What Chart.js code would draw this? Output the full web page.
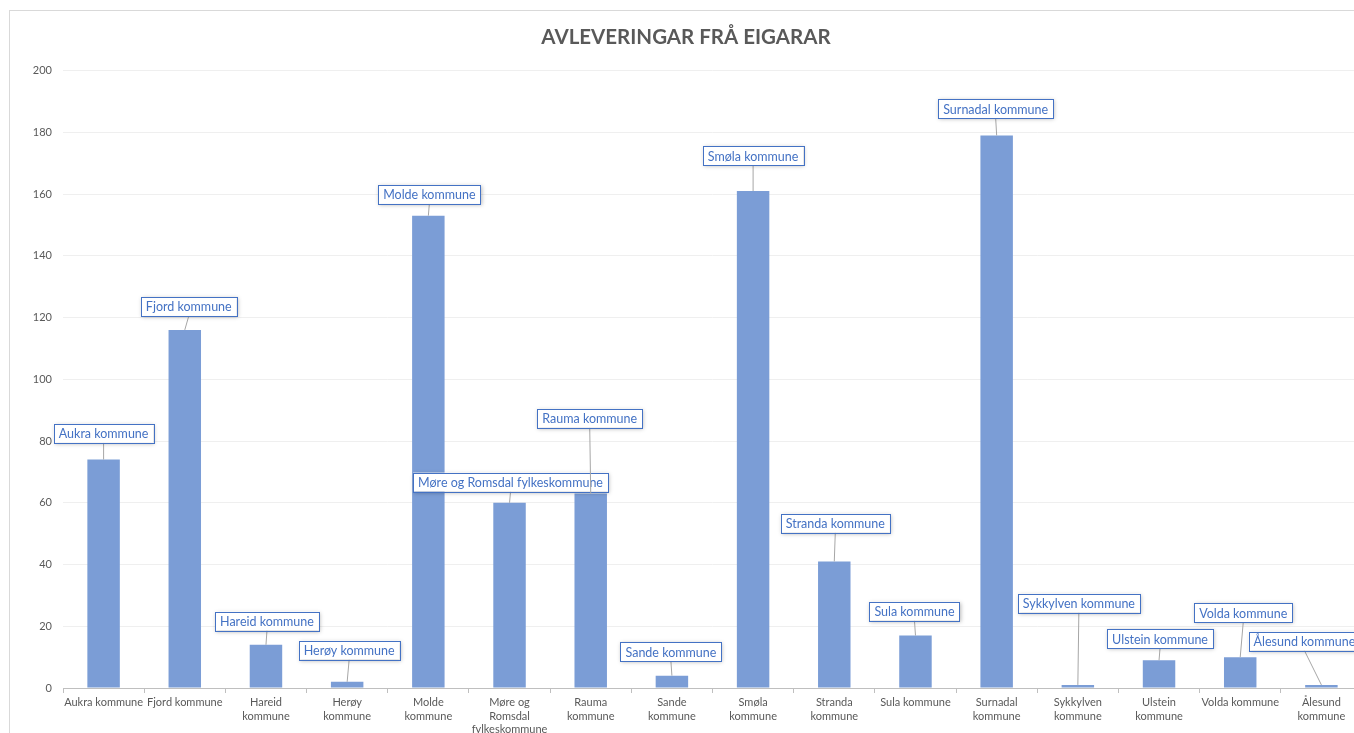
<!DOCTYPE html>
<html>
<head>
<meta charset="utf-8">
<script src="https://cdn.jsdelivr.net/npm/chart.js@4/dist/chart.umd.min.js"></script>
<style>
  html, body { margin: 0; padding: 0; background: #fff; overflow: hidden; width: 1354px; height: 733px; }
  #wrap { position: absolute; left: 9px; top: 10px; width: 1352px; height: 722px;
          border-left: 1px solid #d9d9d9; border-top: 1px solid #d9d9d9; background: #fff; }
  canvas { display: block; }
</style>
</head>
<body>
<div id="wrap"><canvas id="c" width="1352" height="722"></canvas></div>
<script>
// ---- data ----
const categories = ['Aukra kommune','Fjord kommune','Hareid kommune','Herøy kommune','Molde kommune',
  'Møre og Romsdal fylkeskommune','Rauma kommune','Sande kommune','Smøla kommune','Stranda kommune',
  'Sula kommune','Surnadal kommune','Sykkylven kommune','Ulstein kommune','Volda kommune','Ålesund kommune'];
const values = [74, 116, 14, 2, 153, 60, 63, 4, 161, 41, 17, 179, 1, 9, 10, 1];
const tickLabels = [['Aukra kommune'], ['Fjord kommune'], ['Hareid','kommune'], ['Herøy','kommune'],
  ['Molde','kommune'], ['Møre og','Romsdal','fylkeskommune'], ['Rauma','kommune'], ['Sande','kommune'],
  ['Smøla','kommune'], ['Stranda','kommune'], ['Sula kommune'], ['Surnadal','kommune'],
  ['Sykkylven','kommune'], ['Ulstein','kommune'], ['Volda kommune'], ['Ålesund','kommune']];
const chartTitle = 'AVLEVERINGAR FRÅ EIGARAR';
const yMin = 0, yMax = 200, yStep = 20;

// ---- label placement (callout boxes) ----
const calloutLevel = [82.5, 123.6, 21.7, 12.3, 159.9, 66.7, 87.4, 11.7, 172.5, 53.4, 24.9, 187.7, 27.5, 15.9, 24.3, 15.2];
const calloutDx = [0, 4, 1, 2, 1, 1, -1, -1, 0, 1, -1, -1, 1, 1, 3, -17];

const calloutPlugin = {
  id: 'callouts',
  afterDatasetsDraw(chart) {
    const ctx = chart.ctx;
    const meta = chart.getDatasetMeta(0);
    const ys = chart.scales.y;
    ctx.save();
    ctx.font = '12.5px Lato';
    ctx.textBaseline = 'middle';
    ctx.textAlign = 'center';
    meta.data.forEach((bar, i) => {
      const cx = bar.x + calloutDx[i];
      const cy = ys.getPixelForValue(calloutLevel[i]);
      const txt = categories[i];
      const w = ctx.measureText(txt).width + 10;
      const h = 19;
      // leader line
      ctx.strokeStyle = '#a6a6a6';
      ctx.lineWidth = 1;
      ctx.beginPath();
      ctx.moveTo(cx, cy + h / 2);
      ctx.lineTo(bar.x, bar.y);
      ctx.stroke();
      // box with shadow
      ctx.save();
      ctx.shadowColor = 'rgba(0,0,0,0.28)';
      ctx.shadowBlur = 4;
      ctx.shadowOffsetX = 1;
      ctx.shadowOffsetY = 1;
      ctx.fillStyle = '#ffffff';
      ctx.fillRect(cx - w / 2, cy - h / 2, w, h);
      ctx.restore();
      ctx.strokeStyle = '#4472c4';
      ctx.strokeRect(Math.round(cx - w / 2) + 0.5, Math.round(cy - h / 2) + 0.5, Math.round(w), h);
      ctx.fillStyle = '#4472c4';
      ctx.fillText(txt, cx, cy + 1);
    });
    ctx.restore();
  }
};

new Chart(document.getElementById('c'), {
  type: 'bar',
  data: {
    labels: tickLabels,
    datasets: [{
      data: values,
      backgroundColor: '#7b9dd6',
      barPercentage: 0.4,
      categoryPercentage: 1.0
    }]
  },
  options: {
    responsive: false,
    animation: false,
    layout: { padding: { left: 0, right: 0, top: 0, bottom: 0 } },
    plugins: {
      legend: { display: false },
      tooltip: { enabled: false },
      title: {
        display: true,
        text: chartTitle,
        color: '#595959',
        font: { family: 'Lato', size: 20.5, weight: 'bold' },
        padding: { top: 14, bottom: 21 }
      }
    },
    scales: {
      x: {
        afterFit(scale) { scale.height = 45; },
        grid: { drawOnChartArea: false, drawTicks: true, tickLength: 5, color: '#bfbfbf', offset: true },
        border: { display: true, color: '#bfbfbf' },
        ticks: {
          color: '#595959', font: { family: 'Lato', size: 11, lineHeight: 1.27 }, maxRotation: 0, minRotation: 0,
          autoSkip: false, padding: 2
        }
      },
      y: {
        min: yMin, max: yMax,
        afterFit(scale) { scale.width = 53; },
        grid: { color: '#efefef', drawTicks: false },
        border: { display: false },
        ticks: { stepSize: yStep, color: '#595959', font: { family: 'Lato', size: 11 }, padding: 11 }
      }
    }
  },
  plugins: [calloutPlugin]
});
</script>
</body>
</html>
